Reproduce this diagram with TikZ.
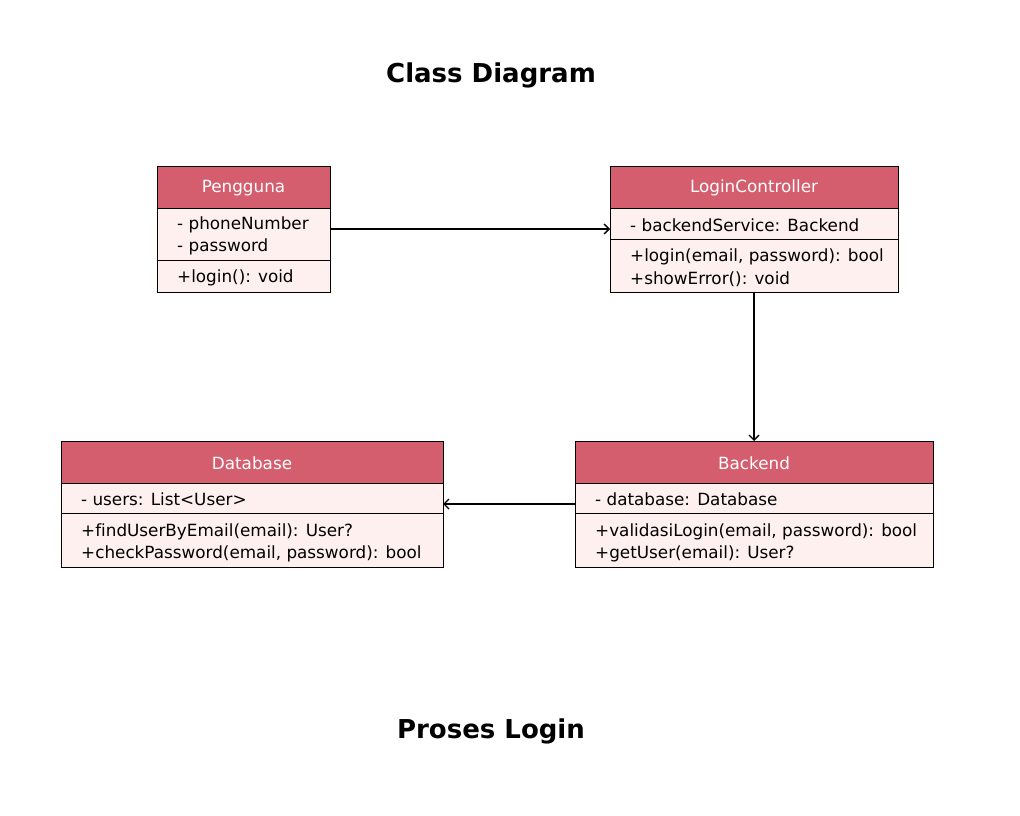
\documentclass[tikz,border=0pt]{standalone}
\usepackage{fontspec}
\setmainfont[Ligatures=NoCommon]{DejaVu Sans}
\usetikzlibrary{arrows.meta}
\definecolor{hdr}{RGB}{212,94,110}
\definecolor{bodyfill}{RGB}{255,240,240}
\tikzset{
  hdrbox/.style={draw=black, fill=hdr, line width=0.9pt},
  bodybox/.style={draw=black, fill=bodyfill, line width=0.9pt},
  hdrtext/.style={text=white, font=\fontsize{16.8}{20}\selectfont, inner sep=0pt},
  mtext/.style={text=black, font=\fontsize{16.8}{20}\selectfont, inner sep=0pt, anchor=west},
  titletext/.style={font=\fontsize{26}{32}\selectfont\bfseries, inner sep=0pt},
  conn/.style={draw=black, line width=1.4pt, -{Straight Barb[length=5pt,width=10pt,line width=1.4pt]}}
}
\begin{document}
\begin{tikzpicture}[x=1pt,y=-1pt]
\useasboundingbox[fill=white] (0,0) rectangle (1020,816);

\node[titletext] (t1) at (491,75) {Class Diagram};
\node[titletext] (t2) at (491,731) {Proses Login};

% Pengguna
\draw[bodybox] (157,208) rectangle (330,292);
\draw[hdrbox] (157,166) rectangle (330,208);
\draw[bodybox] (157,260) rectangle (330,292);
\node[hdrtext] (pH) at (243.5,188) {Pengguna};
\node[mtext] (pA1) at (177,225) {- phoneNumber};
\node[mtext] (pA2) at (177,247) {- password};
\node[mtext] (pM1) at (177,278) {+login(): void};
\coordinate (pR) at (330,229);

% LoginController
\draw[bodybox] (610,208) rectangle (898,292);
\draw[hdrbox] (610,166) rectangle (898,208);
\draw[bodybox] (610,239) rectangle (898,292);
\node[hdrtext] (lH) at (754,188) {LoginController};
\node[mtext] (lA1) at (630,225) {- backendService: Backend};
\node[mtext] (lM1) at (630,257) {+login(email, password): bool};
\node[mtext] (lM2) at (630,279) {+showError(): void};
\coordinate (lL) at (610,229);
\coordinate (lB) at (754,292);

% Database
\draw[bodybox] (61,483) rectangle (443,567);
\draw[hdrbox] (61,441) rectangle (443,483);
\draw[bodybox] (61,513) rectangle (443,567);
\node[hdrtext] (dH) at (252,463) {Database};
\node[mtext] (dA1) at (81,499) {- users: List<User>};
\node[mtext] (dM1) at (81,532) {+findUserByEmail(email): User?};
\node[mtext] (dM2) at (81,554) {+checkPassword(email, password): bool};
\coordinate (dR) at (443,504);

% Backend
\draw[bodybox] (575,483) rectangle (933,567);
\draw[hdrbox] (575,441) rectangle (933,483);
\draw[bodybox] (575,513) rectangle (933,567);
\node[hdrtext] (bH) at (754,463) {Backend};
\node[mtext] (bA1) at (595,499) {- database: Database};
\node[mtext] (bM1) at (595,532) {+validasiLogin(email, password): bool};
\node[mtext] (bM2) at (595,554) {+getUser(email): User?};
\coordinate (bT) at (754,441);
\coordinate (bL) at (575,504);

\draw[conn] (pR) -- (lL);
\draw[conn] (lB) -- (bT);
\draw[conn] (bL) -- (dR);
\end{tikzpicture}
\end{document}
